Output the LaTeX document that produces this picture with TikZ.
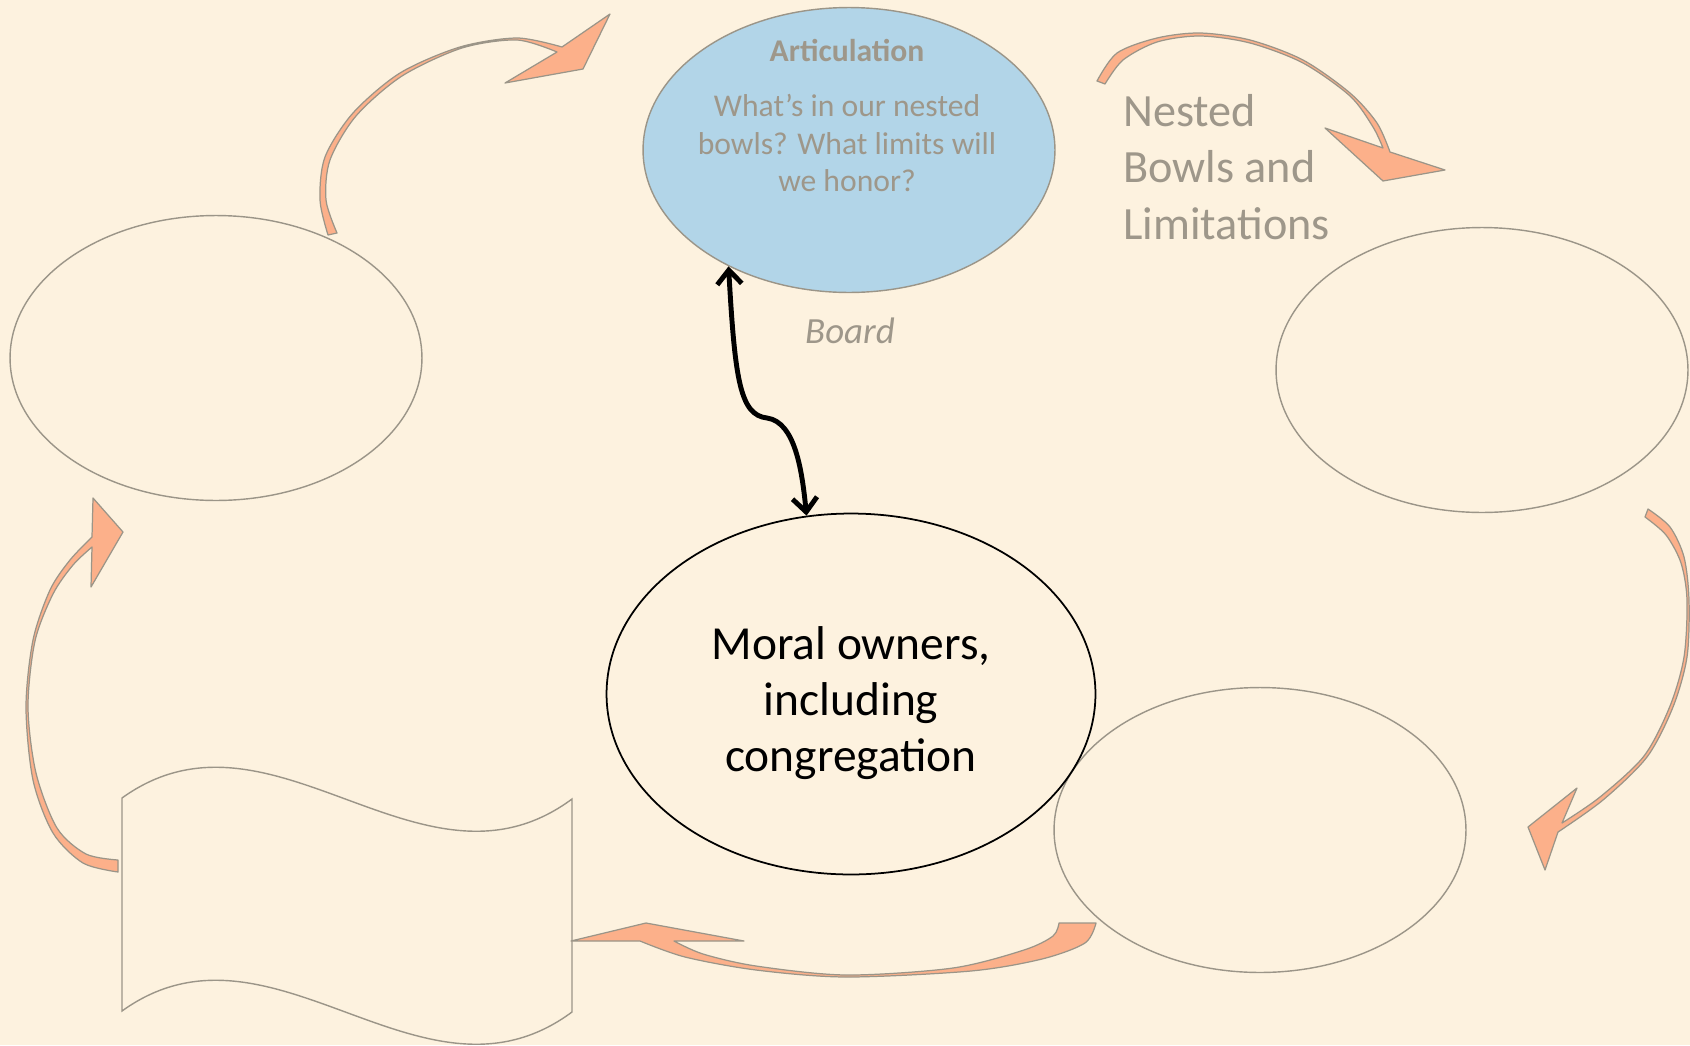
\documentclass[tikz,border=0pt]{standalone}
\usepackage{fontspec}
\setmainfont{Carlito}
\usetikzlibrary{shapes.geometric,arrows.meta}

\definecolor{paper}{HTML}{FDF2DF}
\definecolor{bowlblue}{HTML}{B2D5E8}
\definecolor{cycleorange}{HTML}{FCB08A}
\definecolor{rimgray}{HTML}{9B9588}
\definecolor{inkgray}{HTML}{9E978A}

\tikzset{
  bowl/.style={ellipse, draw=rimgray, line width=0.8pt, minimum width=8.24cm, minimum height=5.7cm, inner sep=0pt},
  cyclearrow/.style={fill=cycleorange, draw=rimgray, line width=0.7pt, line join=round},
  graytext/.style={text=inkgray, align=center, inner sep=0pt},
  boardlink/.style={line width=2.8pt, line cap=round, {Straight Barb[length=8pt,width=14pt]}-{Straight Barb[length=8pt,width=14pt]}},
}

\begin{document}
\begin{tikzpicture}[x=0.02cm, y=-0.02cm]

% Background
\fill[paper] (0,0) rectangle (1690,1045);
\useasboundingbox (0,0) rectangle (1690,1045);

% Bowls
\node[bowl, fill=bowlblue] (artic) at (849,150) {};
\node[bowl] (leftbowl) at (216,358) {};
\node[bowl] (rightbowl) at (1482,370) {};
\node[bowl] (lowbowl) at (1260,830) {};
\node[bowl, draw=black, fill=paper, line width=1pt, minimum width=9.78cm, minimum height=7.22cm] (owners) at (851,694) {};

% Texts
\node[inner sep=0pt, align=center, font=\fontsize{27}{32}\selectfont] (ownerstext) at (851,703)
  {Moral owners,\\ including\\ congregation};
\node[graytext, font=\bfseries\fontsize{18}{21}\selectfont] (artictitle) at (847,50) {Articulation};
\node[graytext, font=\fontsize{18}{21.4}\selectfont] (articask) at (847,143)
  {What’s in our nested\\ bowls? What limits will\\ we honor?};
\node[graytext, font=\fontsize{26.3}{32}\selectfont, align=left, anchor=west] (nestlabel) at (1123,167)
  {Nested\\ Bowls and\\ Limitations};
\node[graytext, font=\itshape\fontsize{21}{24}\selectfont] (boardlabel) at (850,331) {Board};

% Banner
\draw[rimgray, line width=0.8pt, fill=paper] (122,798) .. controls (272,690) and (422,910) .. (572,799)
  -- (572,1012) .. controls (422,1123) and (272,903) .. (122,1011) -- cycle;

% Cycle arrows
\filldraw[cyclearrow] plot[smooth] coordinates {(328,235) (320,200) (325,157) (353,113) (400,73) (460,47) (517,38) (562,47)}
  -- (610,14) -- (583,69) -- (505,83) -- (557,52)
  -- plot[smooth] coordinates {(557,52) (517,40) (462,48) (402,76) (356,116) (330,160) (326,200) (337,233)} -- cycle;

\filldraw[cyclearrow] plot[smooth] coordinates {(1097,81) (1117,53) (1157,38) (1200,33) (1250,40) (1303,60) (1350,93) (1377,123) (1390,152)}
  -- (1445,170) -- (1383,181) -- (1325,128) -- (1383,148)
  -- plot[smooth] coordinates {(1383,148) (1373,127) (1350,96) (1303,63) (1250,43) (1200,36) (1157,42) (1123,60) (1105,84)} -- cycle;

\filldraw[cyclearrow] plot[smooth] coordinates {(1648,509) (1670,527) (1684,557) (1689,600) (1687,657) (1673,707) (1647,757) (1603,800) (1558,832)}
  -- (1545,870) -- (1528,827) -- (1577,788) -- (1562,823)
  -- plot[smooth] coordinates {(1562,823) (1600,797) (1644,756) (1670,706) (1684,657) (1687,600) (1681,563) (1666,535) (1645,517)} -- cycle;

\filldraw[cyclearrow] plot[smooth] coordinates {(1096,923) (1085,943) (1042,959) (971,971) (846,977) (756,970) (685,957) (640,941)}
  -- (571,941) -- (646,923) -- (744,941) -- (674,941)
  -- plot[smooth] coordinates {(674,941) (703,954) (756,966) (846,975) (953,968) (1024,950) (1053,936) (1059,923)} -- cycle;

\filldraw[cyclearrow] plot[smooth] coordinates {(118,872) (83,863) (53,833) (33,780) (26,707) (33,640) (50,590) (70,560) (92,537)}
  -- (93,498) -- (123,532) -- (91,587) -- (92,547)
  -- plot[smooth] coordinates {(92,547) (73,565) (53,594) (35,641) (28,707) (36,773) (57,828) (86,854) (118,860)} -- cycle;

% Board link
\draw[boardlink] (artic.224) .. controls (735,380) and (740,415) .. (767,418)
  .. controls (795,422) and (802,470) .. (owners.104);

\end{tikzpicture}
\end{document}
